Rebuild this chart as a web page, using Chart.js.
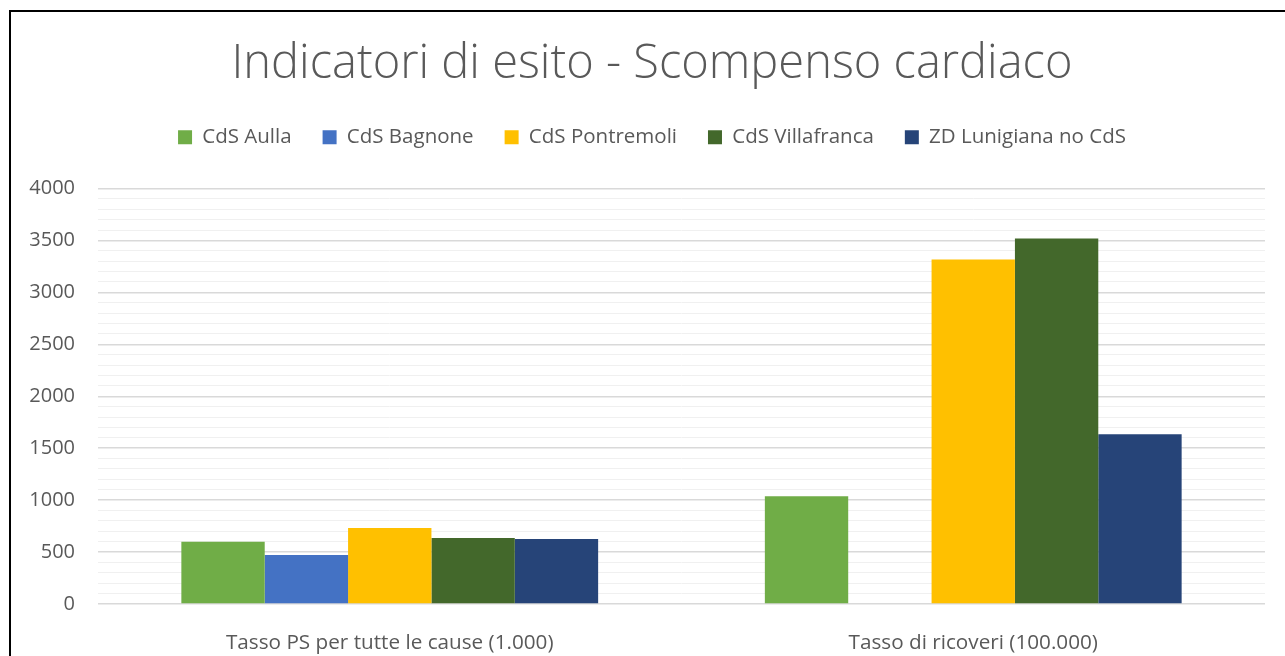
<!DOCTYPE html>
<html>
<head>
<meta charset="utf-8">
<script src="https://cdn.jsdelivr.net/npm/chart.js@4"></script>
<style>
  html, body { margin: 0; padding: 0; background: #fff; overflow: hidden; }
  #wrap { position: relative; width: 1285px; height: 656px; overflow: hidden; }
  #chart { position: absolute; left: 0; top: 0; }
  /* frame of the chart object, cut off on the right and bottom */
  #frame {
    position: absolute; left: 9px; top: 10px; width: 1400px; height: 700px;
    border-left: 2px solid #000; border-top: 2px solid #000; pointer-events: none;
  }
</style>
</head>
<body>
<div id="wrap">
  <canvas id="chart" width="1304" height="656"></canvas>
  <div id="frame"></div>
</div>
<script>
// Categories (x axis)
const categories = ['Tasso PS per tutte le cause (1.000)', 'Tasso di ricoveri (100.000)'];

// Series values, one per category
const cdsAulla = [600, 1038];
const cdsBagnone = [471, null];
const cdsPontremoli = [731, 3317];
const cdsVillafranca = [635, 3519];
const zdLunigiana = [625, 1635];

// Series: label, data, colour
const series = [
  ['CdS Aulla', cdsAulla, '#70AD47'],
  ['CdS Bagnone', cdsBagnone, '#4472C4'],
  ['CdS Pontremoli', cdsPontremoli, '#FFC000'],
  ['CdS Villafranca', cdsVillafranca, '#43682B'],
  ['ZD Lunigiana no CdS', zdLunigiana, '#264478'],
];

// Y axis range and labelled ticks
const yMax = 4000;
const yMinorStep = 100;
const yMajorStep = 500;

const textColour = '#595959';
const fontFamily = '"Open Sans", "Noto Sans", sans-serif';

const datasets = series.map(s => ({
  label: s[0],
  data: s[1],
  backgroundColor: s[2],
  borderWidth: 0,
  categoryPercentage: 5 / 7,
  barPercentage: 1
}));

// Extra space below the legend row, before the plot area
const legendSpacer = {
  id: 'legendSpacer',
  beforeLayout: function (chart) {
    const legend = chart.legend;
    if (legend && !legend._spaced) {
      const fit = legend.fit;
      legend.fit = function () {
        fit.call(this);
        this.height += 31;
      };
      legend._spaced = true;
    }
  }
};

new Chart(document.getElementById('chart').getContext('2d'), {
  type: 'bar',
  data: {
    labels: categories,
    datasets: datasets
  },
  plugins: [legendSpacer],
  options: {
    responsive: false,
    animation: false,
    layout: {
      padding: { left: 0, right: 0, top: 0, bottom: 0 }
    },
    plugins: {
      title: {
        display: true,
        text: 'Indicatori di esito - Scompenso cardiaco',
        color: textColour,
        font: { family: fontFamily, size: 47, weight: 300 },
        padding: { top: 36.8, bottom: 2.8 }
      },
      legend: {
        position: 'top',
        labels: {
          color: textColour,
          font: { family: fontFamily, size: 20.5 },
          boxWidth: 14,
          boxHeight: 14,
          padding: 31
        }
      },
      tooltip: { enabled: false }
    },
    scales: {
      x: {
        grid: { display: false },
        border: { display: false },
        ticks: {
          color: textColour,
          font: { family: fontFamily, size: 20.7 },
          padding: 19,
          maxRotation: 0
        },
        afterFit: function (scale) { scale.height = 52; }
      },
      y: {
        min: 0,
        max: yMax,
        border: { display: false },
        grid: {
          drawTicks: false,
          color: ctx => (ctx.tick.value % yMajorStep === 0 ? '#d9d9d9' : '#f0f0f0'),
          lineWidth: ctx => (ctx.tick.value % yMajorStep === 0 ? 1.5 : 1)
        },
        ticks: {
          stepSize: yMinorStep,
          autoSkip: false,
          color: textColour,
          font: { family: fontFamily, size: 20 },
          padding: 23,
          callback: value => (value % yMajorStep === 0 ? value : '')
        },
        afterFit: function (scale) { scale.width = 98; }
      },
      // empty right-hand margin of the plot area
      yRight: {
        position: 'right',
        min: 0,
        max: yMax,
        grid: { display: false },
        border: { display: false },
        ticks: { display: false },
        afterFit: function (scale) { scale.width = 39; }
      }
    }
  }
});
</script>
</body>
</html>
